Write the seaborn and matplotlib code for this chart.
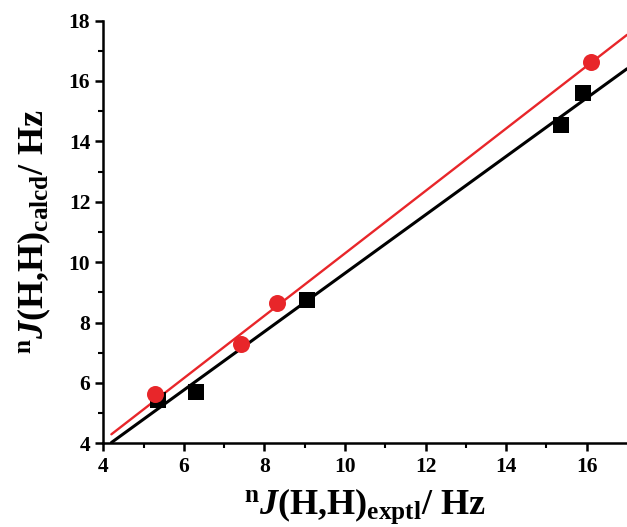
import numpy as np
import pandas as pd
import matplotlib
matplotlib.use("Agg")
import matplotlib.pyplot as plt
import seaborn as sns

# -----------------------------
# Data
# -----------------------------
black_exptl = [5.35, 6.30, 9.05, 15.35, 15.90]
black_calcd = [5.45, 5.70, 8.75, 14.55, 15.60]

red_exptl = [5.28, 7.42, 8.32, 16.10]
red_calcd = [5.63, 7.29, 8.63, 16.64]

x_ticks = [4, 6, 8, 10, 12, 14, 16]
y_ticks = [4, 6, 8, 10, 12, 14, 16, 18]

df_black = pd.DataFrame({"exptl": black_exptl, "calcd": black_calcd})
df_red = pd.DataFrame({"exptl": red_exptl, "calcd": red_calcd})

# -----------------------------
# Style
# -----------------------------
sns.set_style("ticks")
plt.rcParams["font.family"] = ["Liberation Serif", "DejaVu Serif"]
plt.rcParams["font.weight"] = "bold"
plt.rcParams["text.color"] = "black"
plt.rcParams["axes.labelcolor"] = "black"
plt.rcParams["axes.edgecolor"] = "black"
plt.rcParams["xtick.color"] = "black"
plt.rcParams["ytick.color"] = "black"
plt.rcParams["mathtext.fontset"] = "custom"
plt.rcParams["mathtext.rm"] = "Liberation Serif:bold"
plt.rcParams["mathtext.bf"] = "Liberation Serif:bold"
plt.rcParams["mathtext.it"] = "Liberation Serif:italic:bold"

fig = plt.figure(figsize=(6.27, 5.27), dpi=100)
ax = fig.add_axes([0.1648, 0.1588, 0.8352, 0.8023])

# fit lines start a bit right of the y axis, like the original
ax.set_xlim(4.2, 17.0)
sns.regplot(x="exptl", y="calcd", data=df_black, ax=ax, ci=None, truncate=False,
            marker="s", color="black",
            scatter_kws={"s": 130, "zorder": 3, "linewidths": 0, "alpha": 1},
            line_kws={"lw": 2.2, "zorder": 2})
sns.regplot(x="exptl", y="calcd", data=df_red, ax=ax, ci=None, truncate=False,
            marker="o", color="#e8262a",
            scatter_kws={"s": 150, "zorder": 4, "linewidths": 0, "alpha": 1},
            line_kws={"lw": 1.7, "zorder": 2})

ax.set_xlim(4, 17.0)
ax.set_ylim(4, 18)
ax.set_xticks(x_ticks)
ax.set_yticks(y_ticks)
ax.set_xticks(np.arange(5, 17, 2), minor=True)
ax.set_yticks(np.arange(5, 18, 2), minor=True)

ax.tick_params(which="major", direction="out", length=6, width=1.8, labelsize=15.5, colors="black")
ax.tick_params(which="minor", direction="out", length=3.5, width=1.5, colors="black")
for lbl in ax.get_xticklabels() + ax.get_yticklabels():
    lbl.set_fontweight("bold")

sns.despine(ax=ax)
for s in ["left", "bottom"]:
    ax.spines[s].set_linewidth(1.8)
    ax.spines[s].set_color("black")

ax.set_xlabel(r"$^{\mathrm{n}}J\mathrm{(H{,}H)}_{\mathrm{exptl}}\mathrm{/\ Hz}$", fontsize=26, labelpad=7)
ax.set_ylabel(r"$^{\mathrm{n}}J\mathrm{(H{,}H)}_{\mathrm{calcd}}\mathrm{/\ Hz}$", fontsize=26, labelpad=11)

plt.savefig("out.png", dpi=100)
plt.close()
